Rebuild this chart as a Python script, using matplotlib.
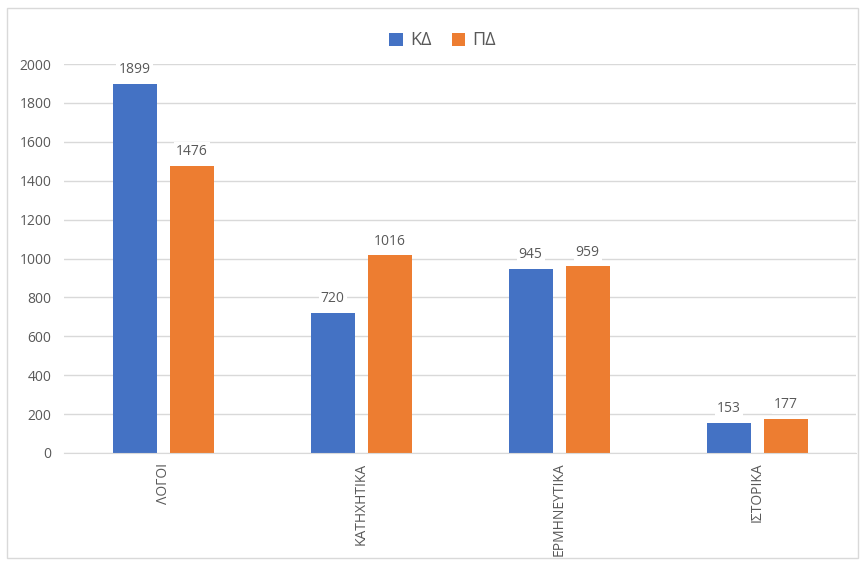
import numpy as np
import matplotlib
matplotlib.use("Agg")
import matplotlib.pyplot as plt
from matplotlib.patches import Rectangle

categories = ["ΛΟΓΟΙ", "ΚΑΤΗΧΗΤΙΚΑ", "ΕΡΜΗΝΕΥΤΙΚΑ", "ΙΣΤΟΡΙΚΑ"]
kd_values = [1899, 720, 945, 153]
pd_values = [1476, 1016, 959, 177]
series_names = ["ΚΔ", "ΠΔ"]
yticks = [0, 200, 400, 600, 800, 1000, 1200, 1400, 1600, 1800, 2000]

plt.rcParams['font.family'] = ['Open Sans', 'DejaVu Sans']

blue = '#4472C4'
orange = '#ED7D31'
grey_text = '#595959'
grid_col = '#D9D9D9'

fig = plt.figure(figsize=(8.63, 5.62), dpi=100)
ax = fig.add_axes([0.0742, 0.194, 0.9178, 0.692])

x = np.arange(len(categories))
w = 0.222
off = 0.144
b1 = ax.bar(x - off, kd_values, w, color=blue, label=series_names[0], zorder=3)
b2 = ax.bar(x + off, pd_values, w, color=orange, label=series_names[1], zorder=3)

# value labels above each bar
for bars in (b1, b2):
    for r in bars:
        ax.text(r.get_x() + r.get_width() / 2, r.get_height() + 35, str(int(r.get_height())),
                ha='center', va='bottom', fontsize=10, color=grey_text, zorder=4,
                bbox=dict(facecolor='white', edgecolor='none', pad=1.5))

ax.set_xlim(-0.5, len(categories) - 0.5)
ax.set_ylim(0, 2000)
ax.set_yticks(yticks)
ax.set_xticks(x)
ax.set_xticklabels(categories, rotation=90, fontsize=10, color=grey_text)
ax.tick_params(axis='y', labelsize=10, colors=grey_text, length=0, pad=9)
ax.tick_params(axis='x', length=0, pad=7)
ax.grid(axis='y', color=grid_col, linewidth=1, zorder=0)
for s in ['top', 'right', 'left']:
    ax.spines[s].set_visible(False)
ax.spines['bottom'].set_color(grid_col)
ax.spines['bottom'].set_zorder(5)

leg = fig.legend(loc='center', bbox_to_anchor=(0.513, 0.928), ncol=2, frameon=False,
                 fontsize=13, handlelength=0.75, handleheight=0.75, handletextpad=0.4,
                 columnspacing=1.1)
for t in leg.get_texts():
    t.set_color(grey_text)

# chart border
fig.patches.append(Rectangle((7 / 863, 1 - 558 / 562), 851 / 863, 550 / 562,
                             transform=fig.transFigure, fill=False,
                             edgecolor=grid_col, linewidth=1))

fig.savefig("out.png", dpi=100)
